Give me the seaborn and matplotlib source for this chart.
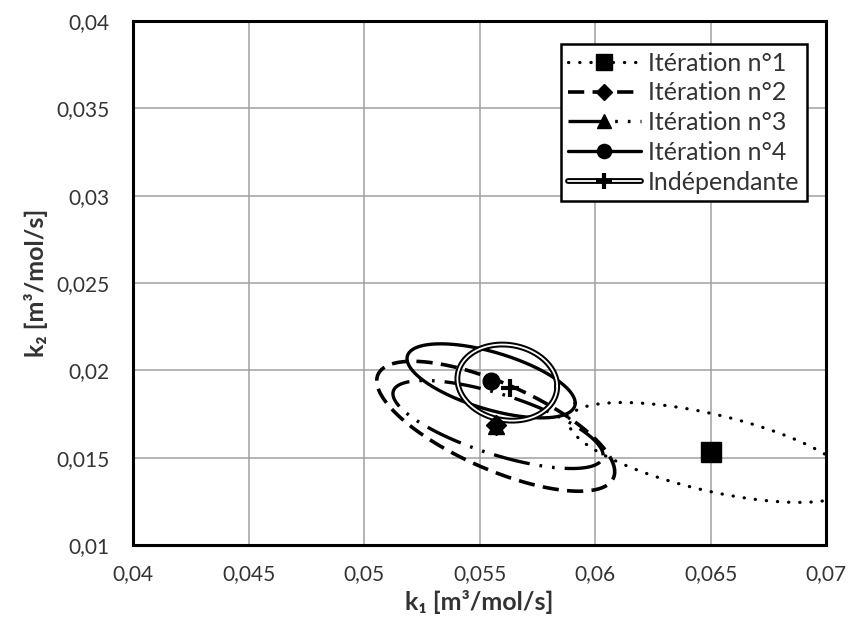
import numpy as np
import matplotlib
matplotlib.use("Agg")
import matplotlib.pyplot as plt
import matplotlib.patheffects as pe
from matplotlib.lines import Line2D
from matplotlib.ticker import FuncFormatter
import seaborn as sns

# données : centres et ellipses de confiance
labels = ["Itération n°1", "Itération n°2", "Itération n°3", "Itération n°4", "Indépendante"]
centre_k1 = [0.0650, 0.0557, 0.0558, 0.0555, 0.0562]
centre_k2 = [0.0153, 0.0168, 0.0169, 0.0194, 0.0193]
marker_k1 = [0.0650, 0.0557, 0.0557, 0.0555, 0.0563]
marker_k2 = [0.0153, 0.0169, 0.0168, 0.0194, 0.0190]
demi_k1 = [0.00615, 0.00515, 0.00455, 0.00364, 0.00216]
demi_k2 = [0.00286, 0.00372, 0.00252, 0.00212, 0.00218]
correl = [-0.62, -0.70, -0.70, -0.60, -0.10]

sns.set_style("white")
plt.rcParams["font.family"] = ["Lato", "DejaVu Sans"]

fig = plt.figure(figsize=(8.49, 6.4), dpi=100)
ax = fig.add_axes([0.1567, 0.1484, 0.8163, 0.8187])

styles = [
    dict(linestyle=(0, (0.1, 3.4)), linewidth=2.3, dash_capstyle="round"),
    dict(linestyle=(0, (4.5, 2.3)), linewidth=2.6),
    dict(linestyle=(0, (11, 3, 0.8, 3, 0.8, 3)), linewidth=2.4),
    dict(linestyle="-", linewidth=2.4),
    dict(linestyle="-", linewidth=1.3,
         path_effects=[pe.Stroke(linewidth=4.2, foreground="black"), pe.Normal()]),
]
couleurs = ["black", "black", "black", "black", "white"]

t = np.linspace(0, 2 * np.pi, 400)
for i in range(5):
    phi = np.arccos(correl[i])
    ex = centre_k1[i] + demi_k1[i] * np.cos(t)
    ey = centre_k2[i] + demi_k2[i] * np.cos(t - phi)
    sns.lineplot(x=ex, y=ey, sort=False, estimator=None, ax=ax,
                 color=couleurs[i], legend=False, **styles[i])

marqueurs = ["s", "D", "^", "o", "+"]
tailles = [14, 10, 12, 12, 13]
for i in range(5):
    ax.plot(marker_k1[i], marker_k2[i], marker=marqueurs[i], markersize=tailles[i],
            color="black", markeredgewidth=3 if i == 4 else 1, linestyle="none", zorder=5)

ax.set_xlim(0.04, 0.07)
ax.set_ylim(0.01, 0.04)
ax.set_xticks([0.04, 0.045, 0.05, 0.055, 0.06, 0.065, 0.07])
ax.set_yticks([0.01, 0.015, 0.02, 0.025, 0.03, 0.035, 0.04])
fmt = FuncFormatter(lambda v, p: ("%g" % round(v, 4)).replace(".", ","))
ax.xaxis.set_major_formatter(fmt)
ax.yaxis.set_major_formatter(fmt)
ax.grid(True, color="#a0a0a0", linewidth=1.1)
ax.tick_params(axis="both", labelsize=15, length=5, width=1, direction="out",
               colors="#333333")
ax.tick_params(axis="both", color="#a0a0a0")
ax.tick_params(axis="x", pad=9)
ax.tick_params(axis="y", pad=12)
for s in ax.spines.values():
    s.set_color("black")
    s.set_linewidth(2.2)

ax.set_xlabel("k₁ [m³/mol/s]", fontsize=18, fontweight="bold", labelpad=4, color="#333333")
ax.set_ylabel("k₂ [m³/mol/s]", fontsize=18, fontweight="bold", labelpad=6, color="#333333")

# légende
handles = []
for i in range(5):
    ligne = Line2D([], [], color=couleurs[i], **styles[i])
    mk = Line2D([], [], marker=marqueurs[i], markersize=tailles[i] * 0.85, color="black",
                markeredgewidth=3 if i == 4 else 1, linestyle="none")
    handles.append((ligne, mk))
leg = ax.legend(handles, labels, loc="upper right", bbox_to_anchor=(0.9726, 0.956),
                fontsize=18, handlelength=2.9, handletextpad=0.3, labelspacing=0.27,
                borderpad=0.3, borderaxespad=0.0, fancybox=False, framealpha=1,
                edgecolor="black")
leg.get_frame().set_linewidth(1.8)
for txt in leg.get_texts():
    txt.set_color("#333333")

fig.savefig("out.png", dpi=100)
